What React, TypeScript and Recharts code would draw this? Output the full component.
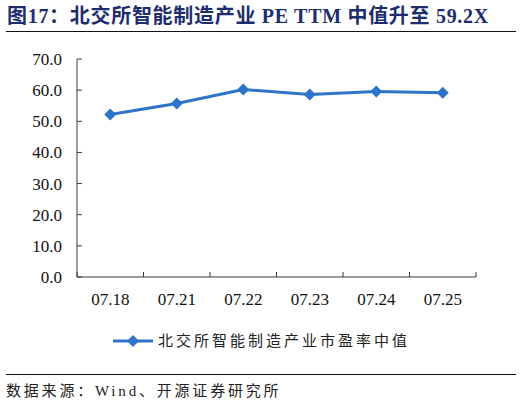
import React from "react";
import { LineChart, Line, XAxis, YAxis, Legend, ReferenceLine } from "recharts";

const categories = ["07.18", "07.21", "07.22", "07.23", "07.24", "07.25"];
const peMedian = [52.2, 55.7, 60.2, 58.6, 59.6, 59.2];
const yTicks = [0, 10, 20, 30, 40, 50, 60, 70];
const seriesName = "北交所智能制造产业市盈率中值";
const titleText = "图17：北交所智能制造产业 PE TTM 中值升至 59.2X";
const sourceText = "数据来源：Wind、开源证券研究所";

const data = categories.map((c, i) => ({ date: c, pe: peMedian[i] }));

const BLUE = "#2E74C8";
const AXIS = "#3a3a3a";
const SERIF = "Liberation Serif";
const CJK = "'Liberation Serif', 'Noto Sans CJK SC', sans-serif";
const TICK_LEN = 5;
const Y_MARGIN = 15;

const Diamond = (props: any) => {
  const { cx, cy } = props;
  if (cx == null || cy == null) return null;
  const r = 6;
  return (
    <polygon
      points={`${cx},${cy - r} ${cx + r},${cy} ${cx},${cy + r} ${cx - r},${cy}`}
      fill={BLUE}
      stroke="none"
    />
  );
};

// category label plus inward tick marks on the band boundaries
const renderXTick = (props: any) => {
  const x = Number(props.x);
  const y = Number(props.y);
  const w = Number(props.width);
  const n = Number(props.visibleTicksCount);
  const idx = Number(props.index);
  const half = w > 0 && n > 0 ? w / n / 2 : NaN;
  return (
    <g key={`xt-${idx}`}>
      {Number.isFinite(half) && (
        <line x1={x - half} y1={y} x2={x - half} y2={y - TICK_LEN} stroke={AXIS} strokeWidth={1} />
      )}
      {Number.isFinite(half) && idx === n - 1 && (
        <line x1={x + half} y1={y} x2={x + half} y2={y - TICK_LEN} stroke={AXIS} strokeWidth={1} />
      )}
      <text x={x} y={y} dy={28} textAnchor="middle" fontFamily={SERIF} fontSize={17} fill="#111">
        {props.payload.value}
      </text>
    </g>
  );
};

const renderYTick = (props: any) => {
  const x = Number(props.x);
  const y = Number(props.y);
  return (
    <text key={`yt-${props.index}`} x={x} y={y} dy={6} textAnchor="end" fontFamily={SERIF} fontSize={17} fill="#111">
      {Number(props.payload.value).toFixed(1)}
    </text>
  );
};

// short inward tick on the y axis, positioned by the reference line's own scale coords
const YTickMark = (props: any) => {
  const x1 = Number(props.x1);
  const y1 = Number(props.y1);
  const x2 = Number(props.x2);
  if (!Number.isFinite(x1) || !Number.isFinite(y1)) return null;
  const left = Math.min(x1, Number.isFinite(x2) ? x2 : x1);
  return <line x1={left} y1={y1} x2={left + TICK_LEN} y2={y1} stroke={AXIS} strokeWidth={1} />;
};

const LegendContent = () => (
  <div style={{ display: "flex", justifyContent: "center", alignItems: "center" }}>
    <svg width={42} height={14}>
      <line x1={1} y1={7} x2={41} y2={7} stroke={BLUE} strokeWidth={3} />
      <polygon points="21,1 27,7 21,13 15,7" fill={BLUE} />
    </svg>
    <span
      style={{
        fontFamily: CJK,
        fontSize: 15,
        letterSpacing: 3,
        color: "#222",
        marginLeft: 4,
        lineHeight: "20px",
      }}
    >
      {seriesName}
    </span>
  </div>
);

export default function App() {
  return (
    <div
      style={{
        position: "absolute",
        top: 0,
        left: 0,
        width: 522,
        height: 405,
        background: "#fff",
        overflow: "hidden",
      }}
    >
      <div
        style={{
          position: "absolute",
          left: 7,
          top: 3,
          fontFamily: CJK,
          fontWeight: 700,
          fontSize: 20,
          letterSpacing: 0.7,
          color: "#1E2D6E",
          whiteSpace: "nowrap",
          lineHeight: "26px",
        }}
      >
        {titleText}
      </div>
      <div
        style={{
          position: "absolute",
          left: 6,
          top: 31,
          width: 510,
          height: 0,
          borderTop: "1.5px solid #111",
        }}
      />
      <LineChart
        width={522}
        height={405}
        data={data}
        margin={{ top: 59, right: 46, left: 0, bottom: 98 }}
        style={{ position: "absolute", top: 0, left: 0 }}
      >
        <XAxis
          dataKey="date"
          scale="band"
          height={30}
          axisLine={{ stroke: AXIS, strokeWidth: 1 }}
          tickLine={false}
          tickSize={0}
          tickMargin={0}
          interval={0}
          tick={renderXTick}
        />
        <YAxis
          width={77}
          domain={[0, 70]}
          ticks={yTicks}
          interval={0}
          tickSize={0}
          tickMargin={Y_MARGIN}
          tickLine={false}
          axisLine={{ stroke: AXIS, strokeWidth: 1 }}
          tick={renderYTick}
        />
        {yTicks.map((v) => (
          <ReferenceLine key={`yr-${v}`} y={v} ifOverflow="visible" shape={<YTickMark />} />
        ))}
        <Legend
          layout="horizontal"
          verticalAlign="middle"
          align="center"
          wrapperStyle={{ top: 331, left: 0, width: 522 }}
          content={<LegendContent />}
        />
        <Line
          type="linear"
          dataKey="pe"
          name={seriesName}
          stroke={BLUE}
          strokeWidth={3}
          dot={<Diamond />}
          activeDot={false}
          isAnimationActive={false}
        />
      </LineChart>
      <div
        style={{
          position: "absolute",
          left: 6,
          top: 374,
          width: 510,
          height: 0,
          borderTop: "1.5px solid #111",
        }}
      />
      <div
        style={{
          position: "absolute",
          left: 6,
          top: 380,
          fontFamily: CJK,
          fontSize: 15,
          letterSpacing: 2.8,
          color: "#222",
          whiteSpace: "nowrap",
          lineHeight: "22px",
        }}
      >
        {sourceText}
      </div>
    </div>
  );
}
